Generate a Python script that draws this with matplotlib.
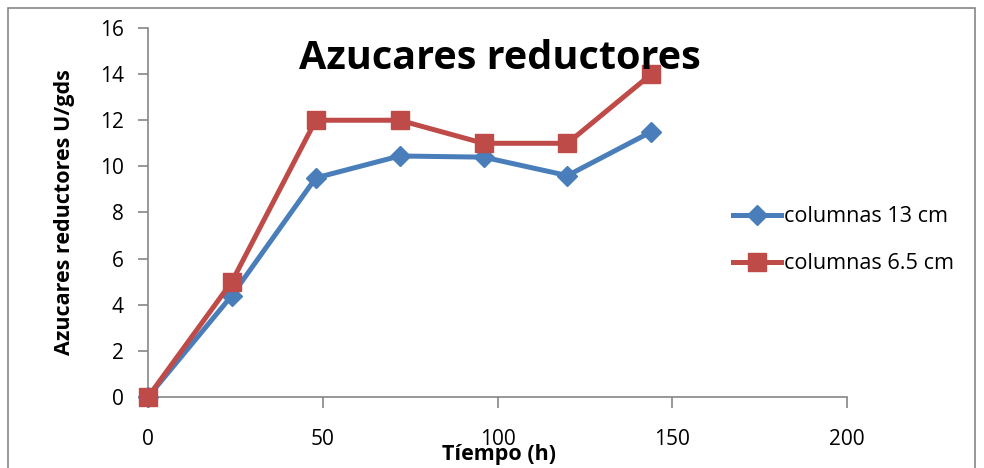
import matplotlib
matplotlib.use('Agg')
import matplotlib.pyplot as plt
from matplotlib.patches import Rectangle

plt.rcParams['font.family'] = ['Open Sans', 'DejaVu Sans']

tiempo = [0, 24, 48, 72, 96, 120, 144]
col_13 = [0, 4.4, 9.5, 10.45, 10.4, 9.6, 11.5]
col_65 = [0, 5, 12, 12, 11, 11, 14]

fig = plt.figure(figsize=(9.84, 4.68), dpi=100)
ax = fig.add_axes([0.1504, 0.1517, 0.7104, 0.7885])

# chart frame (bottom edge sits outside the picture)
fig.patches.append(Rectangle((8/984, -0.1), (975-8)/984, 1.1 - 8/468, transform=fig.transFigure,
                             fill=False, edgecolor='#868686', linewidth=1.2))

ax.plot(tiempo, col_13, color='#4A7EBB', linewidth=3.6, marker='D', markersize=10,
        label='columnas 13 cm', clip_on=False, zorder=3)
ax.plot(tiempo, col_65, color='#BE4B48', linewidth=3.6, marker='s', markersize=13,
        label='columnas 6.5 cm', clip_on=False, zorder=4)

ax.set_xlim(0, 200)
ax.set_ylim(0, 16)
ax.set_xticks([0, 50, 100, 150, 200])
ax.set_yticks(range(0, 17, 2))
for s in ['top', 'right']:
    ax.spines[s].set_visible(False)
for s in ['left', 'bottom']:
    ax.spines[s].set_color('#868686')
    ax.spines[s].set_linewidth(1.2)
ax.tick_params(axis='both', colors='#868686', labelcolor='black', labelsize=15, width=1.2)
ax.tick_params(axis='x', length=8, pad=15)
ax.tick_params(axis='y', length=7.5, pad=10)

ax.set_xlabel('Tíempo (h)', fontsize=15.5, fontweight='bold', va='center')
ax.xaxis.set_label_coords(0.502, -0.157)
ax.set_ylabel('Azucares reductores U/gds', fontsize=15.5, fontweight='bold', va='center')
ax.yaxis.set_label_coords(-0.119, 0.5)

fig.text(0.508, 0.874, 'Azucares reductores', fontsize=28.5, fontweight='bold', ha='center', va='center')

fig.legend(loc='center left', bbox_to_anchor=(0.725, 0.487), frameon=False, fontsize=15.6,
           handlelength=2.2, labelspacing=1.2, handletextpad=0.15)

fig.savefig('out.png', dpi=100)
